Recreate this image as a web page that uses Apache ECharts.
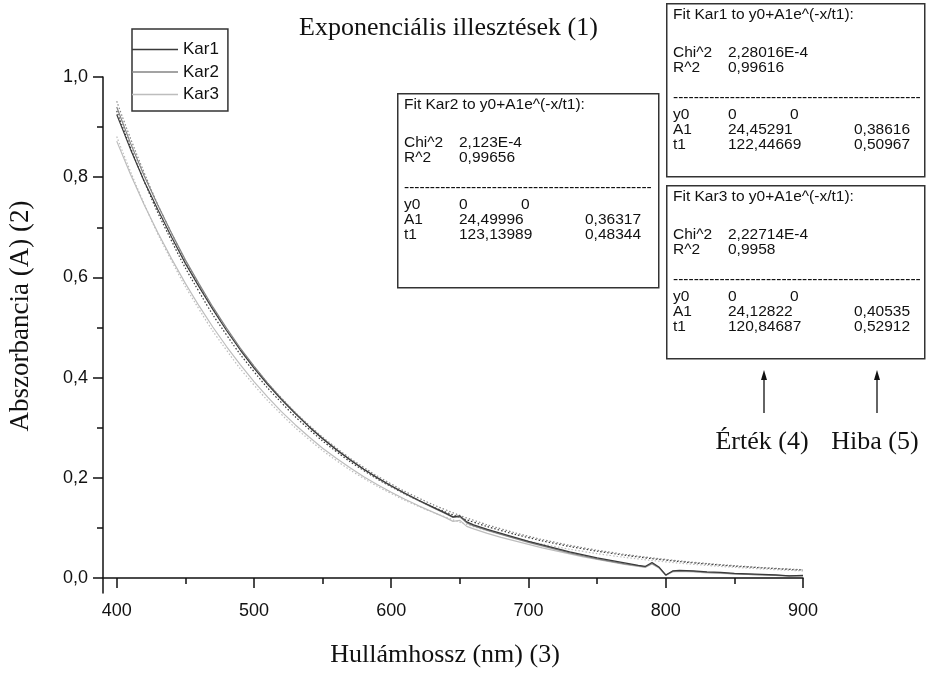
<!DOCTYPE html>
<html>
<head>
<meta charset="utf-8">
<script src="https://cdn.jsdelivr.net/npm/echarts@6/dist/echarts.min.js"></script>
<style>
  html, body { margin: 0; padding: 0; background: #fff; }
  #chart { width: 927px; height: 675px; }
</style>
</head>
<body>
<div id="chart"></div>
<script>
// measured spectra (nm)
var wavelengths = [400, 410, 420, 430, 440, 450, 460, 470, 480, 490, 500, 510, 520, 530, 540, 550, 560, 570, 580, 590,
    600, 610, 620, 630, 640, 645, 650, 655, 660, 670, 680, 690, 700, 710, 720, 730, 740, 750, 760, 770, 780,
    785, 790, 795, 800, 805, 810, 820, 830, 840, 850, 860, 870, 880, 890, 900];
var kar1 = [.925, .856, .792, .735, .680, .628, .581, .536, .494, .455, .419, .386, .356, .328, .302, .278, .256, .236, .217, .200,
    .184, .169, .155, .142, .129, .122, .124, .112, .106, .097, .089, .081, .073, .066, .059, .052, .046, .040, .035, .030, .025,
    .023, .031, .022, .006, .014, .015, .014, .012, .011, .009, .008, .007, .006, .004, .005];
var kar2 = [.940, .868, .803, .744, .688, .635, .587, .541, .499, .459, .423, .389, .358, .330, .303, .279, .257, .236, .217, .199,
    .183, .168, .154, .141, .128, .121, .122, .110, .104, .095, .087, .079, .071, .064, .057, .050, .044, .038, .033, .028, .024,
    .022, .029, .021, .005, .013, .014, .013, .011, .010, .008, .007, .006, .005, .004, .004];
var kar3 = [.872, .806, .745, .689, .637, .588, .543, .501, .462, .426, .392, .361, .332, .306, .282, .259, .239, .220, .202, .186,
    .171, .157, .144, .132, .120, .113, .115, .103, .098, .089, .081, .074, .067, .060, .054, .048, .042, .037, .032, .027, .023,
    .021, .028, .020, .006, .012, .013, .012, .010, .009, .008, .007, .006, .005, .004, .004];

// fitted curves, read every 20 nm
var fitWavelengths = [400, 420, 440, 460, 480, 500, 520, 540, 560, 580, 600, 620, 640, 660, 680, 700, 720, 740, 760, 780,
    800, 820, 840, 860, 880, 900];
var fit1 = [.9324, .7919, .6726, .5712, .4851, .4120, .3499, .2972, .2524, .2144, .1821, .1546, .1313, .1115, .0947, .0805,
    .0683, .0580, .0493, .0419, .0356, .0302, .0256, .0218, .0185, .0157];
var fit2 = [.9516, .8090, .6877, .5846, .4970, .4225, .3592, .3053, .2596, .2207, .1876, .1595, .1356, .1152, .0980, .0833,
    .0708, .0602, .0512, .0435, .0370, .0314, .0267, .0227, .0193, .0164];
var fit3 = [.8811, .7467, .6329, .5364, .4546, .3852, .3265, .2767, .2345, .1988, .1685, .1428, .1210, .1025, .0869, .0737,
    .0624, .0529, .0448, .0380, .0322, .0273, .0231, .0196, .0166, .0141];

var xTicks = [400, 500, 600, 700, 800, 900];
var xMinor = [450, 550, 650, 750, 850];
var yTicks = [0, 0.2, 0.4, 0.6, 0.8, 1.0];
var yMinor = [0.1, 0.3, 0.5, 0.7, 0.9];

var names = ['Kar1', 'Kar2', 'Kar3'];
var colors = ['#3a3a3a', '#858585', '#bdbdbd'];

// fit result tables: [name, chi2, r2, A1, A1err, t1, t1err]
var fitTables = [
    ['Kar1', '2,28016E-4', '0,99616', '24,45291', '0,38616', '122,44669', '0,50967'],
    ['Kar2', '2,123E-4', '0,99656', '24,49996', '0,36317', '123,13989', '0,48344'],
    ['Kar3', '2,22714E-4', '0,9958', '24,12822', '0,40535', '120,84687', '0,52912']
];
var boxPos = [[666, 3], [397, 93], [666, 185]];

function pairs(xs, ys) {
    return xs.map(function (x, i) { return [x, ys[i]]; });
}

var sans = 'Liberation Sans, Arial, sans-serif';
var serif = 'Liberation Serif, Times New Roman, serif';

var series = [];
[fit1, fit2, fit3].forEach(function (f, i) {
    series.push({
        name: names[i] + ' fit', type: 'line', data: pairs(fitWavelengths, f),
        symbol: 'none', smooth: true, silent: true,
        lineStyle: { color: colors[i], width: 1.2, type: [1.5, 2] }
    });
});
[kar3, kar2, kar1].forEach(function (d, k) {
    var i = 2 - k;
    series.push({
        name: names[i], type: 'line', data: pairs(wavelengths, d),
        symbol: 'none', color: colors[i],
        lineStyle: { color: colors[i], width: 1.2 }
    });
});

var graphics = [];
fitTables.forEach(function (t, i) {
    var x0 = boxPos[i][0], y0 = boxPos[i][1];
    var h = i === 1 ? 194 : 173;
    var w = i === 1 ? 261 : 258;
    graphics.push({ type: 'rect', left: x0, top: y0, shape: { width: w, height: h },
        style: { fill: '#fff', stroke: '#333', lineWidth: 1.5 } });
    function txt(dx, dy, s) {
        graphics.push({ type: 'text', x: x0 + dx, y: y0 + dy,
            style: { text: s, font: '15.5px ' + sans, fill: '#111', textVerticalAlign: 'middle' } });
    }
    txt(7, 12, 'Fit ' + t[0] + ' to y0+A1e^(-x/t1):');
    txt(7, 50, 'Chi^2');
    txt(62, 50, t[1]);
    txt(7, 65, 'R^2');
    txt(62, 65, t[2]);
    txt(7, 95, new Array(49).join('-'));
    txt(7, 112, 'y0');
    txt(62, 112, '0');
    txt(124, 112, '0');
    txt(7, 127, 'A1');
    txt(62, 127, t[3]);
    txt(188, 127, t[4]);
    txt(7, 142, 't1');
    txt(62, 142, t[5]);
    txt(188, 142, t[6]);
});

[[764, 'Érték (4)'], [877, 'Hiba (5)']].forEach(function (a) {
    graphics.push({ type: 'line', shape: { x1: a[0], y1: 413, x2: a[0], y2: 378 },
        style: { stroke: '#111', lineWidth: 1.3 } });
    graphics.push({ type: 'polygon', shape: { points: [[a[0], 370], [a[0] - 3, 380], [a[0] + 3, 380]] },
        style: { fill: '#111' } });
    graphics.push({ type: 'text', x: a[0] - 2, y: 442,
        style: { text: a[1], font: '26px ' + serif, fill: '#111', textAlign: 'center', textVerticalAlign: 'middle' } });
});

graphics.push({ type: 'text', x: 21, y: 316, rotation: Math.PI / 2,
    style: { text: 'Abszorbancia (A) (2)', font: '27px ' + serif, fill: '#111',
        textAlign: 'center', textVerticalAlign: 'middle' } });
graphics.push({ type: 'text', x: 445, y: 655,
    style: { text: 'Hullámhossz (nm) (3)', font: '26px ' + serif, fill: '#111',
        textAlign: 'center', textVerticalAlign: 'middle' } });

var axisLineStyle = { color: '#111', width: 1.5 };

var myChart = echarts.init(document.getElementById('chart'));
var option = {
    animation: false,
    backgroundColor: '#fff',
    title: {
        text: 'Exponenciális illesztések (1)',
        left: 294, top: 10,
        textStyle: { fontFamily: serif, fontSize: 26, fontWeight: 'normal', color: '#111' }
    },
    legend: {
        orient: 'vertical', left: 132, top: 29,
        data: names,
        icon: 'rect',
        itemWidth: 46, itemHeight: 1.3, itemGap: 5.5,
        padding: [12, 9, 8, 0],
        borderColor: '#333', borderWidth: 1.5,
        textStyle: { fontFamily: sans, fontSize: 17, color: '#111' }
    },
    grid: { left: 103, right: 124, top: 77, bottom: 82, containLabel: false },
    xAxis: [{
        type: 'value', min: 390, max: 900,
        axisLine: { lineStyle: axisLineStyle },
        axisTick: { customValues: xTicks, length: 10, lineStyle: axisLineStyle },
        axisLabel: { customValues: xTicks, margin: 9, fontFamily: sans, fontSize: 18, color: '#111' },
        splitLine: { show: false }
    }, {
        type: 'value', min: 390, max: 900, position: 'bottom',
        axisLine: { show: false },
        axisTick: { customValues: xMinor, length: 6, lineStyle: axisLineStyle },
        axisLabel: { show: false }, splitLine: { show: false }
    }],
    yAxis: [{
        type: 'value', min: -0.03, max: 1.0,
        axisLine: { lineStyle: axisLineStyle },
        axisTick: { customValues: yTicks, length: 10, lineStyle: axisLineStyle },
        axisLabel: {
            customValues: yTicks, margin: 15, fontFamily: sans, fontSize: 18, color: '#111',
            formatter: function (v) { return v.toFixed(1).replace('.', ','); }
        },
        splitLine: { show: false }
    }, {
        type: 'value', min: -0.03, max: 1.0, position: 'left',
        axisLine: { show: false },
        axisTick: { customValues: yMinor, length: 6, lineStyle: axisLineStyle },
        axisLabel: { show: false }, splitLine: { show: false }
    }],
    series: series,
    graphic: graphics
};
myChart.setOption(option);
</script>
</body>
</html>
